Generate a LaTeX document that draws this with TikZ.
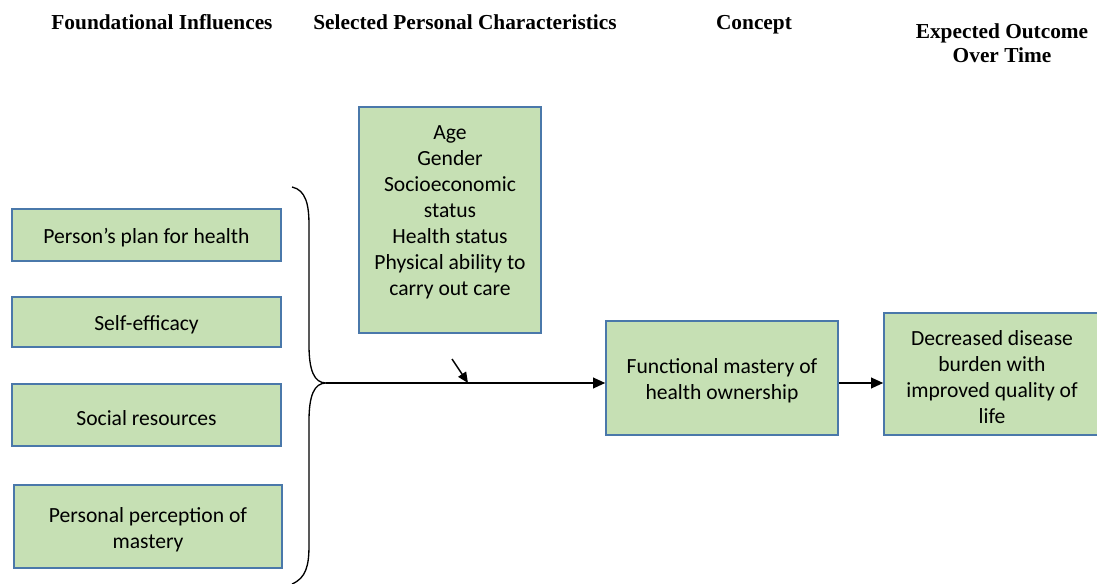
\documentclass[tikz,border=0pt]{standalone}
\usepackage{fontspec}
\setmainfont{Carlito}
\newfontfamily\hdfont{Liberation Serif}
\usetikzlibrary{arrows.meta}
\definecolor{boxfill}{RGB}{198,224,180}
\definecolor{boxline}{RGB}{74,120,170}
\begin{document}
\begin{tikzpicture}[x=0.75pt,y=-0.75pt,
  gbox/.style={draw=boxline,line width=1.2pt,fill=boxfill,inner sep=0pt},
  btxt/.style={align=center,font=\fontsize{16.2}{19.5}\selectfont,inner sep=0pt,yshift=-2.2pt},
  hdr/.style={font=\hdfont\bfseries\fontsize{16}{18}\selectfont,align=center},
  arr/.style={-{Triangle[length=9pt,width=8pt]},line width=1.1pt},
  brace/.style={line width=1pt}]
\useasboundingbox (0,0) rectangle (1097,584);
% headers
\node[hdr,text depth=0pt] (h1) at (162,22) {Foundational Influences};
\node[hdr,text depth=0pt] (h2) at (465,22) {Selected Personal Characteristics};
\node[hdr,text depth=0pt] (h3) at (754,22) {Concept};
\node[hdr] (h4) at (1002,43) {Expected Outcome\\Over Time};
% left boxes
\node[gbox,minimum width=269*0.75pt,minimum height=52*0.75pt] (b1) at (146.5,235) {};
\node[btxt] (t1) at (b1.center) {Person’s plan for health};
\node[gbox,minimum width=269*0.75pt,minimum height=50*0.75pt] (b2) at (146.5,322) {};
\node[btxt] (t2) at (b2.center) {Self-efficacy};
\node[gbox,minimum width=269*0.75pt,minimum height=62*0.75pt] (b3) at (146.5,415) {};
\node[btxt] (t3) at (b3.center) {Social resources};
\node[gbox,minimum width=268*0.75pt,minimum height=83*0.75pt] (b4) at (148,526.5) {};
\node[btxt] (t4) at (b4.center) {Personal perception of\\mastery};
% characteristics box
\node[gbox,minimum width=182*0.75pt,minimum height=226*0.75pt] (c) at (450,220) {};
\node[align=center,font=\fontsize{16.2}{19.5}\selectfont,anchor=north] (ct) at (450,121) {Age\\Gender\\Socioeconomic\\status\\Health status\\Physical ability to\\carry out care};
% concept and outcome
\node[gbox,minimum width=232*0.75pt,minimum height=114*0.75pt] (f) at (722,378) {};
\node[btxt] (ft) at (f.center) {Functional mastery of\\health ownership};
\node[gbox,minimum width=216*0.75pt,minimum height=122*0.75pt] (o) at (992,374) {};
\node[btxt] (ot) at (o.center) {Decreased disease\\burden with\\improved quality of\\life};
% brace
\coordinate (bt) at (292,187);
\coordinate (tip) at (326,383);
\coordinate (bb) at (292,584);
\draw[brace] (bt) .. controls (306,190) and (309,205) .. (309,225)
  -- (309,345) .. controls (309,370) and (314,383) .. (tip)
  .. controls (314,383) and (309,396) .. (309,421)
  -- (309,545) .. controls (309,566) and (306,578) .. (bb);
% arrows
\coordinate (m) at (468,383);
\coordinate (ms) at (452,359);
\draw[arr] (tip) -- (tip -| f.west);
\draw[-{Triangle[length=8pt,width=7pt]},line width=1.1pt] (ms) -- (m);
\draw[arr] (tip -| f.east) -- (tip -| o.west);
\end{tikzpicture}
\end{document}
